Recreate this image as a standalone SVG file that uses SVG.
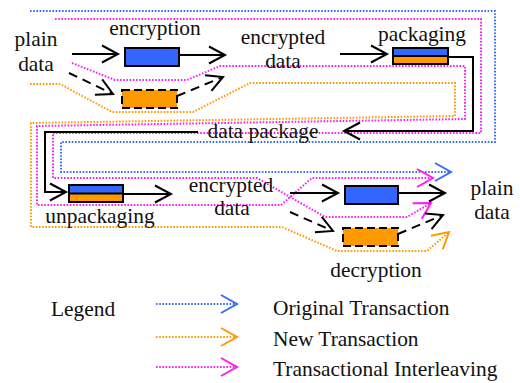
<svg xmlns="http://www.w3.org/2000/svg" width="520" height="383" viewBox="0 0 520 383">
  <style>
    text { font-family: "Liberation Serif", "Times New Roman", serif; font-size: 21.4px; fill: #111; }
    .mid { text-anchor: middle; }
    .flow { fill: none; stroke: #000; stroke-width: 2; marker-end: url(#head); }
    .dash { stroke-dasharray: 9 6; }
    .trace { fill: none; stroke-width: 2; stroke-dasharray: 1.6 1.6; }
    .orig { stroke: #3b6cf5; }
    .newt { stroke: #ff9a00; }
    .intl { stroke: #ff1cf0; }
    .box { stroke: #000; stroke-width: 2; }
    .blue { fill: #3366ff; }
    .orange { fill: #ff9900; }
    .dbox { stroke-dasharray: 8 4; }
  </style>
  <defs>
    <marker id="head" markerUnits="userSpaceOnUse" markerWidth="24" markerHeight="24" viewBox="-18 -12 24 24" refX="0" refY="0" orient="auto" overflow="visible">
      <path d="M-16,-8.5 L0,0 L-16,8.5" fill="none" stroke="#000" stroke-width="2"/>
    </marker>
    <marker id="headBlue" markerUnits="userSpaceOnUse" markerWidth="24" markerHeight="24" viewBox="-18 -12 24 24" refX="0" refY="0" orient="auto" overflow="visible">
      <path d="M-16,-9 L0,0 L-16,9" fill="none" stroke="#3b6cf5" stroke-width="2"/>
    </marker>
    <marker id="headOrange" markerUnits="userSpaceOnUse" markerWidth="24" markerHeight="24" viewBox="-18 -12 24 24" refX="0" refY="0" orient="auto" overflow="visible">
      <path d="M-16,-9 L0,0 L-16,9" fill="none" stroke="#ff9a00" stroke-width="2"/>
    </marker>
    <marker id="headPink" markerUnits="userSpaceOnUse" markerWidth="24" markerHeight="24" viewBox="-18 -12 24 24" refX="0" refY="0" orient="auto" overflow="visible">
      <path d="M-16,-9 L0,0 L-16,9" fill="none" stroke="#ff1cf0" stroke-width="2"/>
    </marker>
  </defs>

  <!-- transaction traces (dotted) -->
  <g id="traces">
    <path class="trace orig" d="M30,11 H495 V142 H61 V172 H451" marker-end="url(#headBlue)"/>
    <path class="trace intl" d="M55,19 H481 V133 H53 V178 H257 L325,217 H407 L431,203" marker-end="url(#headPink)"/>
    <path class="trace intl" d="M72,63 L115,80 H187 L220,66 H465 V119 L37,126 V205 H281 L312,178 H433" marker-end="url(#headPink)"/>
    <path class="trace newt" d="M30,84 H60 L112,112 H193 L250,83 H455 V116 L31,123 V227 H282 L337,251 H427 L449,232" marker-end="url(#headOrange)"/>
  </g>

  <!-- data-flow connectors -->
  <g id="connectors">
    <path class="flow" d="M72,54 H118"/>
    <path class="flow" d="M179,55 H225"/>
    <path class="flow dash" d="M69,73 L113,94"/>
    <path class="flow dash" d="M177,96 L223,77"/>
    <path class="flow" d="M340,54 H387"/>
    <path class="flow" d="M448,57 H473 V131 H344"/>
    <path class="flow" d="M198,132 H45 V192 H66"/>
    <path class="flow" d="M123,194 H171"/>
    <path class="flow" d="M290,193 H338"/>
    <path class="flow" d="M398,193 H445"/>
    <path class="flow dash" d="M290,212 L333,231"/>
    <path class="flow dash" d="M398,234 L443,215"/>
  </g>

  <!-- stage 1: encryption -->
  <g id="plain-in">
    <text class="mid" x="36" y="46">plain</text>
    <text class="mid" x="36" y="71">data</text>
  </g>
  <g id="encryption">
    <text class="mid" x="155" y="35">encryption</text>
    <rect class="box blue" x="125" y="48" width="54" height="18"/>
    <rect class="box orange dbox" x="122" y="90" width="55" height="18"/>
  </g>
  <g id="encrypted-1">
    <text class="mid" x="283" y="44">encrypted</text>
    <text class="mid" x="283" y="68">data</text>
  </g>
  <g id="packaging">
    <text class="mid" x="422" y="41">packaging</text>
    <rect class="blue" x="393" y="48" width="55" height="8"/>
    <rect class="orange" x="393" y="56" width="55" height="8"/>
    <rect class="box" x="393" y="48" width="55" height="16" fill="none"/>
    <line x1="393" y1="56" x2="448" y2="56" stroke="#000" stroke-width="2"/>
  </g>
  <g id="data-package">
    <text class="mid" x="263" y="138">data package</text>
  </g>

  <!-- stage 2: decryption -->
  <g id="unpackaging">
    <rect class="blue" x="69" y="185" width="54" height="8.5"/>
    <rect class="orange" x="69" y="193.5" width="54" height="8.5"/>
    <rect class="box" x="69" y="185" width="54" height="17" fill="none"/>
    <line x1="69" y1="193.5" x2="123" y2="193.5" stroke="#000" stroke-width="2"/>
    <text class="mid" x="100" y="223">unpackaging</text>
  </g>
  <g id="encrypted-2">
    <text class="mid" x="231" y="192">encrypted</text>
    <text class="mid" x="232" y="215">data</text>
  </g>
  <g id="decryption">
    <rect class="box blue" x="345" y="186" width="53" height="18"/>
    <rect class="box orange dbox" x="343" y="228" width="55" height="18"/>
    <text class="mid" x="376" y="277">decryption</text>
  </g>
  <g id="plain-out">
    <text class="mid" x="492" y="195">plain</text>
    <text class="mid" x="492" y="219">data</text>
  </g>

  <!-- legend -->
  <g id="legend">
    <text x="51" y="316">Legend</text>
    <path class="trace orig" d="M156,304 H237" marker-end="url(#headBlue)"/>
    <text x="273" y="315">Original Transaction</text>
    <path class="trace newt" d="M156,337 H237" marker-end="url(#headOrange)"/>
    <text x="273" y="346">New Transaction</text>
    <path class="trace intl" d="M156,367 H237" marker-end="url(#headPink)"/>
    <text x="273" y="376">Transactional Interleaving</text>
  </g>
</svg>
